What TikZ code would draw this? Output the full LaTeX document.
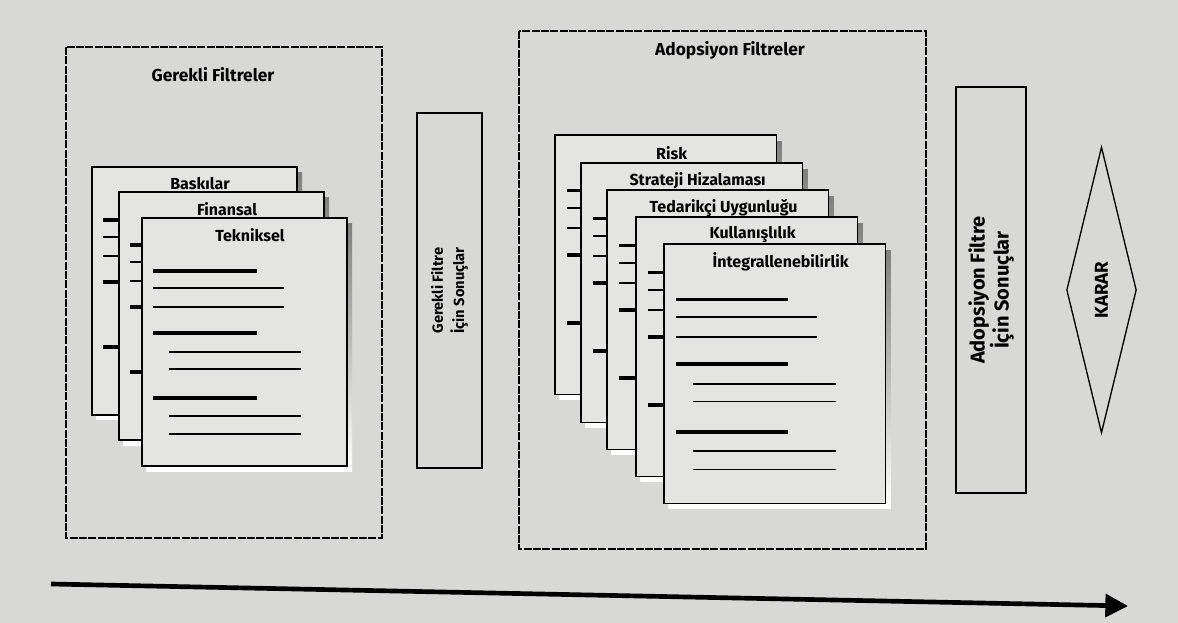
\documentclass[tikz,border=0pt]{standalone}
\usepackage{fontspec}
\setmainfont{Fira Sans}
\usepackage{tikz}
\usetikzlibrary{arrows.meta,shapes.geometric}
\definecolor{paper}{RGB}{216,216,214}
\definecolor{sheet}{RGB}{228,228,226}
\definecolor{shade}{RGB}{85,85,85}
\tikzset{panel/.style={draw,line width=0.8pt,dash pattern=on 6pt off 1pt},
    paneltitle/.style={inner sep=0.75pt,font=\fontsize{13}{15}\selectfont\bfseries},
    pagelabel/.style={inner sep=0.75pt,font=\fontsize{12}{14}\selectfont\bfseries},
    barthick/.style={line width=2.8pt},
    barthin/.style={line width=1pt},
    resultbox/.style={draw,line width=1pt,rotate=90,align=center,inner sep=0pt},
    pics/filterpage/.style={code={
        \begin{scope}[yscale=-1]
        %shadow
        \fill[shade] (4,6) rectangle (210,253);
        %sheet
        \draw[fill=sheet,line width=0.9pt] (0,0) rectangle (205,248);
        %text lines
        \draw[barthick] (11,53) -- (115,53);
        \draw[barthin] (11,70) -- (142,70);
        \draw[barthin] (11,89) -- (142,89);
        \draw[barthick] (11,115) -- (115,115);
        \draw[barthin] (27,134) -- (159,134);
        \draw[barthin] (27,151) -- (159,151);
        \draw[barthick] (11,180) -- (115,180);
        \draw[barthin] (27,198) -- (159,198);
        \draw[barthin] (27,216) -- (159,216);
        % Text Node
        \node[pagelabel] (-label) at (108,17) {#1};
        \end{scope}
    }}}

\begin{document}
\begin{tikzpicture}[x=0.75pt,y=0.75pt,yscale=-1,xscale=1]
\fill[paper] (0,0) rectangle (1178,623);
\useasboundingbox (0,0) rectangle (1178,623);

%Shape: Panel [gerekli]
\draw[panel] (66,47) rectangle (382,538);
% Text Node
\node (gerekliBaslik) [paneltitle] at (213,75) {Gerekli Filtreler};
%Pages
\pic (baskilar) at (92,167) {filterpage=Baskılar};
\pic (finansal) at (119,192) {filterpage=Finansal};
\pic (tekniksel) at (142,218) {filterpage=Tekniksel};

%Shape: Result box
\node (gerekliSonuc) [resultbox,minimum width=266.25pt,minimum height=48.75pt,font=\fontsize{11}{16}\selectfont\bfseries] at (449.5,290.5) {Gerekli Filtre\\İçin Sonuçlar};

%Shape: Panel [adopsiyon]
\draw[panel] (519,31) rectangle (926,549);
% Text Node
\node (adopsiyonBaslik) [paneltitle] at (730,50) {Adopsiyon Filtreler};
%Pages
\pic (risk) [xscale=1.08,yscale=1.045] at (555,135) {filterpage=Risk};
\pic (strateji) [xscale=1.08,yscale=1.045] at (581,163) {filterpage=Strateji Hizalaması};
\pic (tedarikci) [xscale=1.08,yscale=1.045] at (607,190) {filterpage=Tedarikçi Uygunluğu};
\pic (kullanis) [xscale=1.08,yscale=1.045] at (636,217) {filterpage=Kullanışlılık};
\pic (integral) [xscale=1.08,yscale=1.045] at (664,244) {filterpage=İntegrallenebilirlik};

%Shape: Result box
\node (adopsiyonSonuc) [resultbox,minimum width=304.5pt,minimum height=52.5pt,font=\fontsize{15}{18}\selectfont\bfseries] at (991,290) {Adopsiyon Filtre\\İçin Sonuçlar};

%Shape: Diamond
\node (karar) [draw,diamond,rotate=90,line width=1pt,minimum width=214.5pt,minimum height=51.75pt,inner sep=0pt,font=\fontsize{14}{16}\selectfont\bfseries] at (1101.5,290) {KARAR};

%Straight Lines: time axis
\coordinate (zamanBas) at (51,584);
\coordinate (zamanSon) at (1128,606);
\draw[line width=3.5pt,-{Triangle[length=17pt,width=17pt]}] (zamanBas) -- (zamanSon);

\end{tikzpicture}
\end{document}
